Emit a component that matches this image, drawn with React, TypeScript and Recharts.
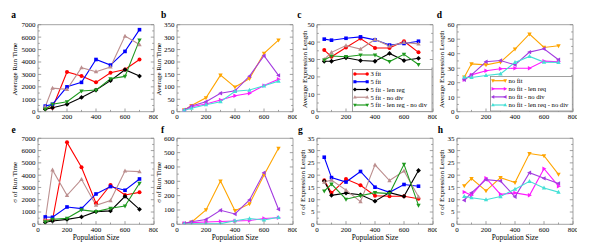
import React from 'react';
import { LineChart, Line, XAxis, YAxis, Legend, Label } from 'recharts';

// ---------- data ----------
const POP = [50, 100, 200, 300, 400, 500, 600, 700];
const X_TICKS = [0, 100, 200, 300, 400, 500, 600, 700, 800];

// a: Average Run Time (fit variants)
const A_3FIT = [250, 320, 3200, 2870, 2360, 3140, 3400, 4200];
const A_5FIT = [450, 600, 2000, 2360, 4200, 3750, 4850, 6600];
const A_5FIT_LENREG = [200, 320, 600, 1150, 1740, 2500, 3380, 2870];
const A_5FIT_NODIV = [400, 1900, 1800, 3540, 3220, 3600, 6080, 5400];
const A_5FIT_LENREG_NODIV = [200, 600, 800, 1660, 1740, 2650, 2840, 5760];

// b: Average Run Time (no fit variants)
const B_NOFIT = [7, 25, 56, 147, 99, 133, 235, 288];
const B_NOFIT_LENREQ = [4, 20, 31, 47, 64, 74, 105, 131];
const B_NOFIT_NODIV = [7, 23, 40, 74, 84, 143, 225, 146];
const B_NOFIT_LENREQ_NODIV = [6, 14, 28, 40, 82, 87, 104, 123];

// c: Average Expression Length (fit variants)
const C_3FIT = [35.4, 31.6, 36.9, 42, 36.6, 36.6, 40.5, 34.1];
const C_5FIT = [41.7, 41.1, 42.2, 43, 41.3, 38.3, 39.2, 40.5];
const C_5FIT_LENREG = [29, 29, 31, 29.4, 29, 33.5, 29.4, 30.7];
const C_5FIT_NODIV = [30.1, 34.1, 38, 36, 41.5, 37.7, 39.8, 39];
const C_5FIT_LENREG_NODIV = [29.7, 32, 31.6, 32.6, 32.6, 28.8, 33, 27.1];

// d: Average Expression Length (no fit variants)
const D_NOFIT = [23.8, 33, 32.3, 34.2, 43.2, 53.6, 44.3, 45.5];
const D_NOFIT_LENREQ = [22, 25.4, 28.2, 29.6, 30, 30, 34.9, 34.4];
const D_NOFIT_NODIV = [22, 25.4, 34.4, 35.3, 32.3, 41.1, 43.4, 35.8];
const D_NOFIT_LENREQ_NODIV = [23.8, 23.6, 25, 26.1, 34, 38.1, 34.2, 34];

// e: sigma of Run Time (fit variants)
const E_3FIT = [350, 350, 6670, 4640, 1710, 3200, 2390, 2600];
const E_5FIT = [600, 570, 1410, 1280, 2470, 3070, 2770, 3690];
const E_5FIT_LENREG = [160, 270, 400, 600, 1030, 1090, 2280, 1220];
const E_5FIT_NODIV = [350, 4420, 2360, 3660, 1550, 1930, 4340, 4290];
const E_5FIT_LENREG_NODIV = [190, 400, 490, 1170, 1030, 1300, 1490, 3340];

// f: sigma of Run Time (no fit variants)
const F_NOFIT = [3, 15, 100, 302, 95, 142, 344, 530];
const F_NOFIT_LENREQ = [7, 12, 16, 20, 23, 26, 40, 46];
const F_NOFIT_NODIV = [7, 18, 33, 98, 72, 170, 360, 105];
const F_NOFIT_LENREQ_NODIV = [2, 3, 4, 5, 25, 40, 30, 49];

// g: sigma of Expression Length (fit variants)
const G_3FIT = [17.9, 12.8, 18.4, 15.9, 11.6, 11.4, 11.4, 10.4];
const G_5FIT = [27.3, 19, 17.2, 21.5, 15.1, 13, 16.2, 15.5];
const G_5FIT_LENREG = [17.6, 11.8, 12.7, 12, 9.4, 12.9, 11.4, 21.9];
const G_5FIT_NODIV = [17.2, 18, 13.9, 9.2, 24.2, 17.8, 21.7, 11.2];
const G_5FIT_LENREG_NODIV = [13.5, 16.4, 10.2, 11.6, 12.9, 12.5, 24.4, 7.7];

// h: sigma of Expression Length (no fit variants)
const H_NOFIT = [15.6, 18.6, 13.6, 19, 17, 28.8, 27.9, 20.3];
const H_NOFIT_LENREQ = [13.1, 11.8, 18.8, 12.2, 12.8, 11.8, 22.6, 15.5];
const H_NOFIT_NODIV = [9.8, 12.8, 18.2, 17.6, 11.2, 21, 18.7, 16.6];
const H_NOFIT_LENREQ_NODIV = [11.4, 10.8, 10, 11.3, 14.3, 17.5, 14.8, 13.1];

const FIT_NAMES = ['3 fit', '5 fit', '5 fit - len reg', '5 fit - no div', '5 fit - len reg - no div'];
const NOFIT_NAMES = ['no fit', 'no fit - len req', 'no fit - no div', 'no fit - len req - no div'];

// ---------- styles ----------
const FONT = '"Liberation Serif", "DejaVu Serif", serif';
const FRAME = '#8a8a8a';
const TXT = '#000000';

const FIT_STYLE = [
  { color: '#ff0000', shape: 'circle' },
  { color: '#0000ff', shape: 'square' },
  { color: '#000000', shape: 'diamond' },
  { color: '#bc8f8f', shape: 'tup' },
  { color: '#1f9a1f', shape: 'tdown' },
];
const NOFIT_STYLE = [
  { color: '#ffa500', shape: 'tdown' },
  { color: '#ff1aff', shape: 'tright' },
  { color: '#a33be0', shape: 'tleft' },
  { color: '#45e0d6', shape: 'tup' },
];

const PL = [37.7, 177.3, 316.7, 456.7];
const PW = 116;
const CT = [0, 125];
const PT = [24.7, 138.3];
const PH = [87, 86];
const CH = 125;
const LEFT_W = 36;
const RIGHT_W = 4;
const CW = LEFT_W + PW + RIGHT_W;

type Cfg = {
  letter: string;
  col: number;
  row: number;
  yMax: number;
  yStep: number;
  title: string;
  titleDx: number;
  letterX: number;
  letterY: number;
  values: number[][];
  fit: boolean;
  legend?: { left: number; top: number; dy0: number; dy: number };
};

const PANELS: Cfg[] = [
  { letter: 'a', col: 0, row: 0, yMax: 7000, yStep: 1000, title: 'Average Run Time', titleDx: -22.7, letterX: 13.3, letterY: 15,
    values: [A_3FIT, A_5FIT, A_5FIT_LENREG, A_5FIT_NODIV, A_5FIT_LENREG_NODIV], fit: true },
  { letter: 'b', col: 1, row: 0, yMax: 350, yStep: 50, title: 'Average Run Time', titleDx: -18.3, letterX: 164, letterY: 15,
    values: [B_NOFIT, B_NOFIT_LENREQ, B_NOFIT_NODIV, B_NOFIT_LENREQ_NODIV], fit: false },
  { letter: 'c', col: 2, row: 0, yMax: 50, yStep: 10, title: 'Average Expression Length', titleDx: -11.5, letterX: 299, letterY: 15,
    values: [C_3FIT, C_5FIT, C_5FIT_LENREG, C_5FIT_NODIV, C_5FIT_LENREG_NODIV], fit: true,
    legend: { left: 352.3, top: 68.7, dy0: 5, dy: 7.75 } },
  { letter: 'd', col: 3, row: 0, yMax: 60, yStep: 10, title: 'Average Expression Length', titleDx: -15, letterX: 439, letterY: 15,
    values: [D_NOFIT, D_NOFIT_LENREQ, D_NOFIT_NODIV, D_NOFIT_LENREQ_NODIV], fit: false,
    legend: { left: 490, top: 76.3, dy0: 4.7, dy: 8.1 } },
  { letter: 'e', col: 0, row: 1, yMax: 7000, yStep: 1000, title: 'σ of Run Time', titleDx: -22.7, letterX: 13.3, letterY: 130,
    values: [E_3FIT, E_5FIT, E_5FIT_LENREG, E_5FIT_NODIV, E_5FIT_LENREG_NODIV], fit: true },
  { letter: 'f', col: 1, row: 1, yMax: 600, yStep: 100, title: 'σ of Run Time', titleDx: -18.3, letterX: 163, letterY: 130,
    values: [F_NOFIT, F_NOFIT_LENREQ, F_NOFIT_NODIV, F_NOFIT_LENREQ_NODIV], fit: false },
  { letter: 'g', col: 2, row: 1, yMax: 35, yStep: 5, title: 'σ of Expression Length', titleDx: -14.4, letterX: 300, letterY: 130,
    values: [G_3FIT, G_5FIT, G_5FIT_LENREG, G_5FIT_NODIV, G_5FIT_LENREG_NODIV], fit: true },
  { letter: 'h', col: 3, row: 1, yMax: 35, yStep: 5, title: 'σ of Expression Length', titleDx: -15, letterX: 440, letterY: 130,
    values: [H_NOFIT, H_NOFIT_LENREQ, H_NOFIT_NODIV, H_NOFIT_LENREQ_NODIV], fit: false },
];

// ---------- marks ----------
function Marker({ cx, cy, shape, color, s = 2 }: { cx: number; cy: number; shape: string; color: string; s?: number }) {
  switch (shape) {
    case 'circle':
      return <circle cx={cx} cy={cy} r={s} fill={color} />;
    case 'square':
      return <rect x={cx - s * 0.9} y={cy - s * 0.9} width={s * 1.8} height={s * 1.8} fill={color} />;
    case 'diamond':
      return <polygon points={`${cx},${cy - s * 1.2} ${cx + s * 1.2},${cy} ${cx},${cy + s * 1.2} ${cx - s * 1.2},${cy}`} fill={color} />;
    case 'tup':
      return <polygon points={`${cx},${cy - s * 1.2} ${cx + s * 1.1},${cy + s * 0.8} ${cx - s * 1.1},${cy + s * 0.8}`} fill={color} />;
    case 'tdown':
      return <polygon points={`${cx},${cy + s * 1.2} ${cx + s * 1.1},${cy - s * 0.8} ${cx - s * 1.1},${cy - s * 0.8}`} fill={color} />;
    case 'tright':
      return <polygon points={`${cx + s * 1.2},${cy} ${cx - s * 0.8},${cy - s * 1.1} ${cx - s * 0.8},${cy + s * 1.1}`} fill={color} />;
    case 'tleft':
      return <polygon points={`${cx - s * 1.2},${cy} ${cx + s * 0.8},${cy - s * 1.1} ${cx + s * 0.8},${cy + s * 1.1}`} fill={color} />;
    default:
      return <circle cx={cx} cy={cy} r={s} fill={color} />;
  }
}

function makeDot(shape: string, color: string) {
  return (props: any) => {
    const { cx, cy, index } = props;
    if (cx == null || cy == null) return <g key={index} />;
    return (
      <g key={`d${index}`}>
        <Marker cx={cx} cy={cy} shape={shape} color={color} />
      </g>
    );
  };
}

const MAJ = 3.2;
const MIN = 1.8;

function bottomTick(showLabel: boolean) {
  return (p: any) => {
    const v = p.payload.value;
    const major = v % 200 === 0;
    return (
      <g>
        <line x1={p.x} x2={p.x} y1={p.y} y2={p.y - (major ? MAJ : MIN)} stroke={FRAME} strokeWidth={0.8} />
        {showLabel && major && (
          <text x={p.x} y={p.y + 7.6} textAnchor="middle" fontSize={7} fontFamily={FONT} fill={TXT} style={{ fill: TXT }}>{v}</text>
        )}
      </g>
    );
  };
}
function topTick(p: any) {
  const v = p.payload.value;
  const major = v % 200 === 0;
  return <line x1={p.x} x2={p.x} y1={p.y} y2={p.y + (major ? MAJ : MIN)} stroke={FRAME} strokeWidth={0.8} />;
}
function leftTick(step: number) {
  return (p: any) => {
    const v = p.payload.value;
    const major = Math.abs(v / step - Math.round(v / step)) < 1e-6;
    return (
      <g>
        <line x1={p.x} x2={p.x + (major ? MAJ : MIN)} y1={p.y} y2={p.y} stroke={FRAME} strokeWidth={0.8} />
        {major && (
          <text x={p.x - 2.4} y={p.y + 2.4} textAnchor="end" fontSize={7} fontFamily={FONT} fill={TXT} style={{ fill: TXT }}>{v}</text>
        )}
      </g>
    );
  };
}
function rightTick(step: number) {
  return (p: any) => {
    const v = p.payload.value;
    const major = Math.abs(v / step - Math.round(v / step)) < 1e-6;
    return <line x1={p.x} x2={p.x - (major ? MAJ : MIN)} y1={p.y} y2={p.y} stroke={FRAME} strokeWidth={0.8} />;
  };
}

function Panel({ cfg }: { cfg: Cfg }) {
  const { col, row } = cfg;
  const chartLeft = PL[col] - LEFT_W;
  const chartTop = CT[row];
  const topH = PT[row] - chartTop;
  const plotH = PH[row];
  const botH = CH - topH - plotH;
  const names = cfg.fit ? FIT_NAMES : NOFIT_NAMES;
  const styles = cfg.fit ? FIT_STYLE : NOFIT_STYLE;

  const data = POP.map((x, i) => {
    const o: any = { x };
    cfg.values.forEach((arr, k) => {
      o['s' + k] = arr[i];
    });
    return o;
  });

  const yTicks: number[] = [];
  for (let v = 0; v <= cfg.yMax + 1e-9; v += cfg.yStep / 2) yTicks.push(Math.round(v * 1000) / 1000);

  const titleX = LEFT_W + cfg.titleDx;
  const titleY = topH + plotH / 2 + 1;

  const lg = cfg.legend;
  const lgLeft = lg ? lg.left - chartLeft : 0;
  const lgTop = lg ? lg.top - chartTop : 0;
  const lgW = lg ? LEFT_W + PW - lgLeft : 0;
  const lgH = lg ? topH + plotH - lgTop : 0;

  const legendContent = () => (
    <svg width={lgW} height={lgH} style={{ display: 'block' }}>
      <rect x={0.4} y={0.4} width={lgW - 0.8} height={lgH - 0.8} fill="#ffffff" stroke={FRAME} strokeWidth={0.8} />
      {names.map((n, i) => {
        const y = (lg ? lg.dy0 + i * lg.dy : 0);
        const st = styles[i];
        return (
          <g key={n}>
            <line x1={2.7} x2={15.4} y1={y} y2={y} stroke={st.color} strokeWidth={1.2} />
            <Marker cx={2.9} cy={y} shape={st.shape} color={st.color} s={1.7} />
            <Marker cx={15.2} cy={y} shape={st.shape} color={st.color} s={1.7} />
            <text x={18.4} y={y + 2.3} fontSize={6.6} fontFamily={FONT} fill={TXT} style={{ fill: TXT }}>{n}</text>
          </g>
        );
      })}
    </svg>
  );

  return (
    <div style={{ position: 'absolute', left: chartLeft, top: chartTop, width: CW, height: CH }}>
      <LineChart width={CW} height={CH} data={data} margin={{ top: 0, right: 0, bottom: 0, left: 0 }}>
        <XAxis
          xAxisId="b"
          dataKey="x"
          type="number"
          orientation="bottom"
          domain={[0, 800]}
          allowDataOverflow
          ticks={X_TICKS}
          interval={0}
          height={botH}
          tickSize={0}
          tickMargin={0}
          tickLine={false}
          axisLine={{ stroke: FRAME, strokeWidth: 0.8 }}
          tick={bottomTick(true)}
        >
          {row === 1 && (
            <Label
              content={() => (
                <text x={LEFT_W + PW / 2} y={topH + plotH + 15.4} textAnchor="middle" fontSize={7.4} fontFamily={FONT} fill={TXT} style={{ fill: TXT }}>
                  Population Size
                </text>
              )}
            />
          )}
        </XAxis>
        <XAxis
          xAxisId="t"
          type="number"
          orientation="top"
          domain={[0, 800]}
          allowDataOverflow
          ticks={X_TICKS}
          interval={0}
          height={topH}
          tickSize={0}
          tickMargin={0}
          tickLine={false}
          axisLine={{ stroke: FRAME, strokeWidth: 0.8 }}
          tick={topTick}
        >
          <Label
            content={() => (
              <text x={cfg.letterX - chartLeft} y={cfg.letterY - chartTop + 3.2} textAnchor="middle" fontSize={9.5} fontWeight="bold" fontFamily={FONT} fill={TXT} style={{ fill: TXT }}>
                {cfg.letter}
              </text>
            )}
          />
        </XAxis>
        <YAxis
          yAxisId="l"
          type="number"
          orientation="left"
          domain={[0, cfg.yMax]}
          allowDataOverflow
          ticks={yTicks}
          interval={0}
          width={LEFT_W}
          tickSize={0}
          tickMargin={0}
          tickLine={false}
          axisLine={{ stroke: FRAME, strokeWidth: 0.8 }}
          tick={leftTick(cfg.yStep)}
        >
          <Label
            content={() => (
              <text
                x={titleX}
                y={titleY}
                transform={`rotate(-90 ${titleX} ${titleY})`}
                textAnchor="middle"
                dominantBaseline="central"
                fontSize={7}
                fontFamily={FONT}
                fill={TXT}
                style={{ fill: TXT }}
              >
                {cfg.title}
              </text>
            )}
          />
        </YAxis>
        <YAxis
          yAxisId="r"
          type="number"
          orientation="right"
          domain={[0, cfg.yMax]}
          allowDataOverflow
          ticks={yTicks}
          interval={0}
          width={RIGHT_W}
          tickSize={0}
          tickMargin={0}
          tickLine={false}
          axisLine={{ stroke: FRAME, strokeWidth: 0.8 }}
          tick={rightTick(cfg.yStep)}
        />
        {cfg.values.map((_, k) => (
          <Line
            key={k}
            xAxisId="b"
            yAxisId="l"
            type="linear"
            dataKey={'s' + k}
            name={names[k]}
            stroke={styles[k].color}
            strokeWidth={1.1}
            dot={makeDot(styles[k].shape, styles[k].color)}
            activeDot={false}
            isAnimationActive={false}
          />
        ))}
        {lg && (
          <Legend
            layout="vertical"
            align="center"
            verticalAlign="middle"
            wrapperStyle={{ position: 'absolute', left: lgLeft, top: lgTop, width: lgW, height: lgH, margin: 0, padding: 0 }}
            content={legendContent}
          />
        )}
      </LineChart>
    </div>
  );
}

export default function App() {
  return (
    <div style={{ position: 'absolute', left: 0, top: 0, width: 598, height: 250, background: '#ffffff' }}>
      {PANELS.map((p) => (
        <Panel key={p.letter} cfg={p} />
      ))}
    </div>
  );
}
